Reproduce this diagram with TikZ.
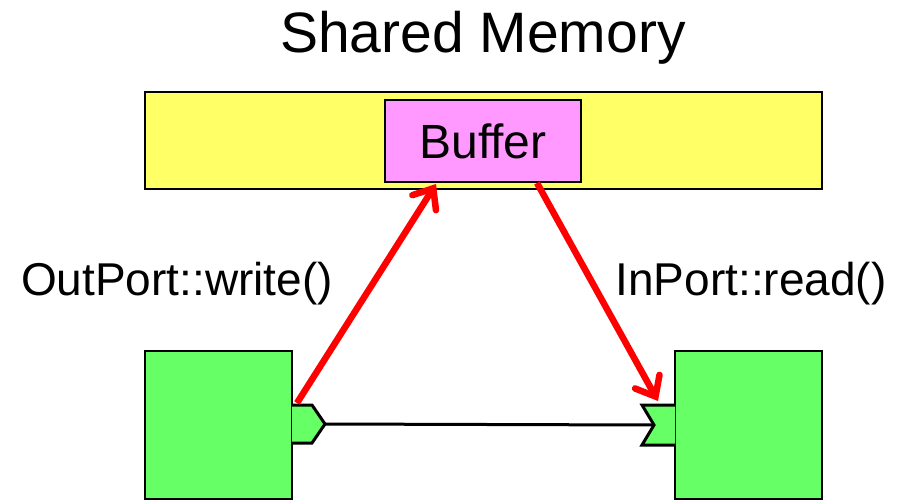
\documentclass[tikz,border=0pt]{standalone}
\usepackage{fontspec}
\setmainfont{Liberation Sans}
\usetikzlibrary{arrows.meta}
\definecolor{memyellow}{HTML}{FFFF66}
\definecolor{bufpink}{HTML}{FF99FF}
\definecolor{compgreen}{HTML}{66FF66}
\begin{document}
\begin{tikzpicture}[x=1pt,y=-1pt,
  box/.style={draw=black,line width=2.5pt,inner sep=0pt,outer sep=0pt},
  portshape/.style={draw=black,line width=3pt,fill=compgreen,line join=miter},
  flow/.style={draw=red,line width=6.5pt,-{Straight Barb[length=17pt,width=28pt,line cap=round]}},
  label/.style={font=\fontsize{46}{50}\selectfont,inner sep=0pt}]
\useasboundingbox (0,0) rectangle (905,499);
% shared memory region with its buffer
\node[label,font=\fontsize{57}{60}\selectfont] (title) at (483,38) {Shared Memory};
\node[box,fill=memyellow,minimum width=677pt,minimum height=97pt] (mem) at (483.5,140.5) {};
\node[box,fill=bufpink,minimum width=196pt,minimum height=82pt,font=\fontsize{48}{50}\selectfont] (buf) at (483,141) {Buffer};
% components
\node[box,fill=compgreen,minimum width=147pt,minimum height=148pt] (src) at (218.5,425) {};
\node[box,fill=compgreen,minimum width=147pt,minimum height=148pt] (dst) at (748.5,425) {};
% output port (pointed) and input port (notched)
\draw[portshape] (292,405) -- (312,405) -- (325,424) coordinate (outtip) -- (312,443) -- (292,443);
\draw[portshape] (675,405) -- (642,405) -- (654,425) coordinate (innotch) -- (642,445) -- (675,445);
\draw[line width=3pt] (outtip) -- (innotch);
% port operations
\node[label] (wr) at (177,284) {OutPort::write()};
\node[label] (rd) at (751,284) {InPort::read()};
\coordinate (wstart) at (297,403);
\coordinate (wend) at (436,184);
\coordinate (rstart) at (537,183);
\coordinate (rend) at (658,401);
\draw[flow] (wstart) -- (wend);
\draw[flow] (rstart) -- (rend);
\end{tikzpicture}
\end{document}
